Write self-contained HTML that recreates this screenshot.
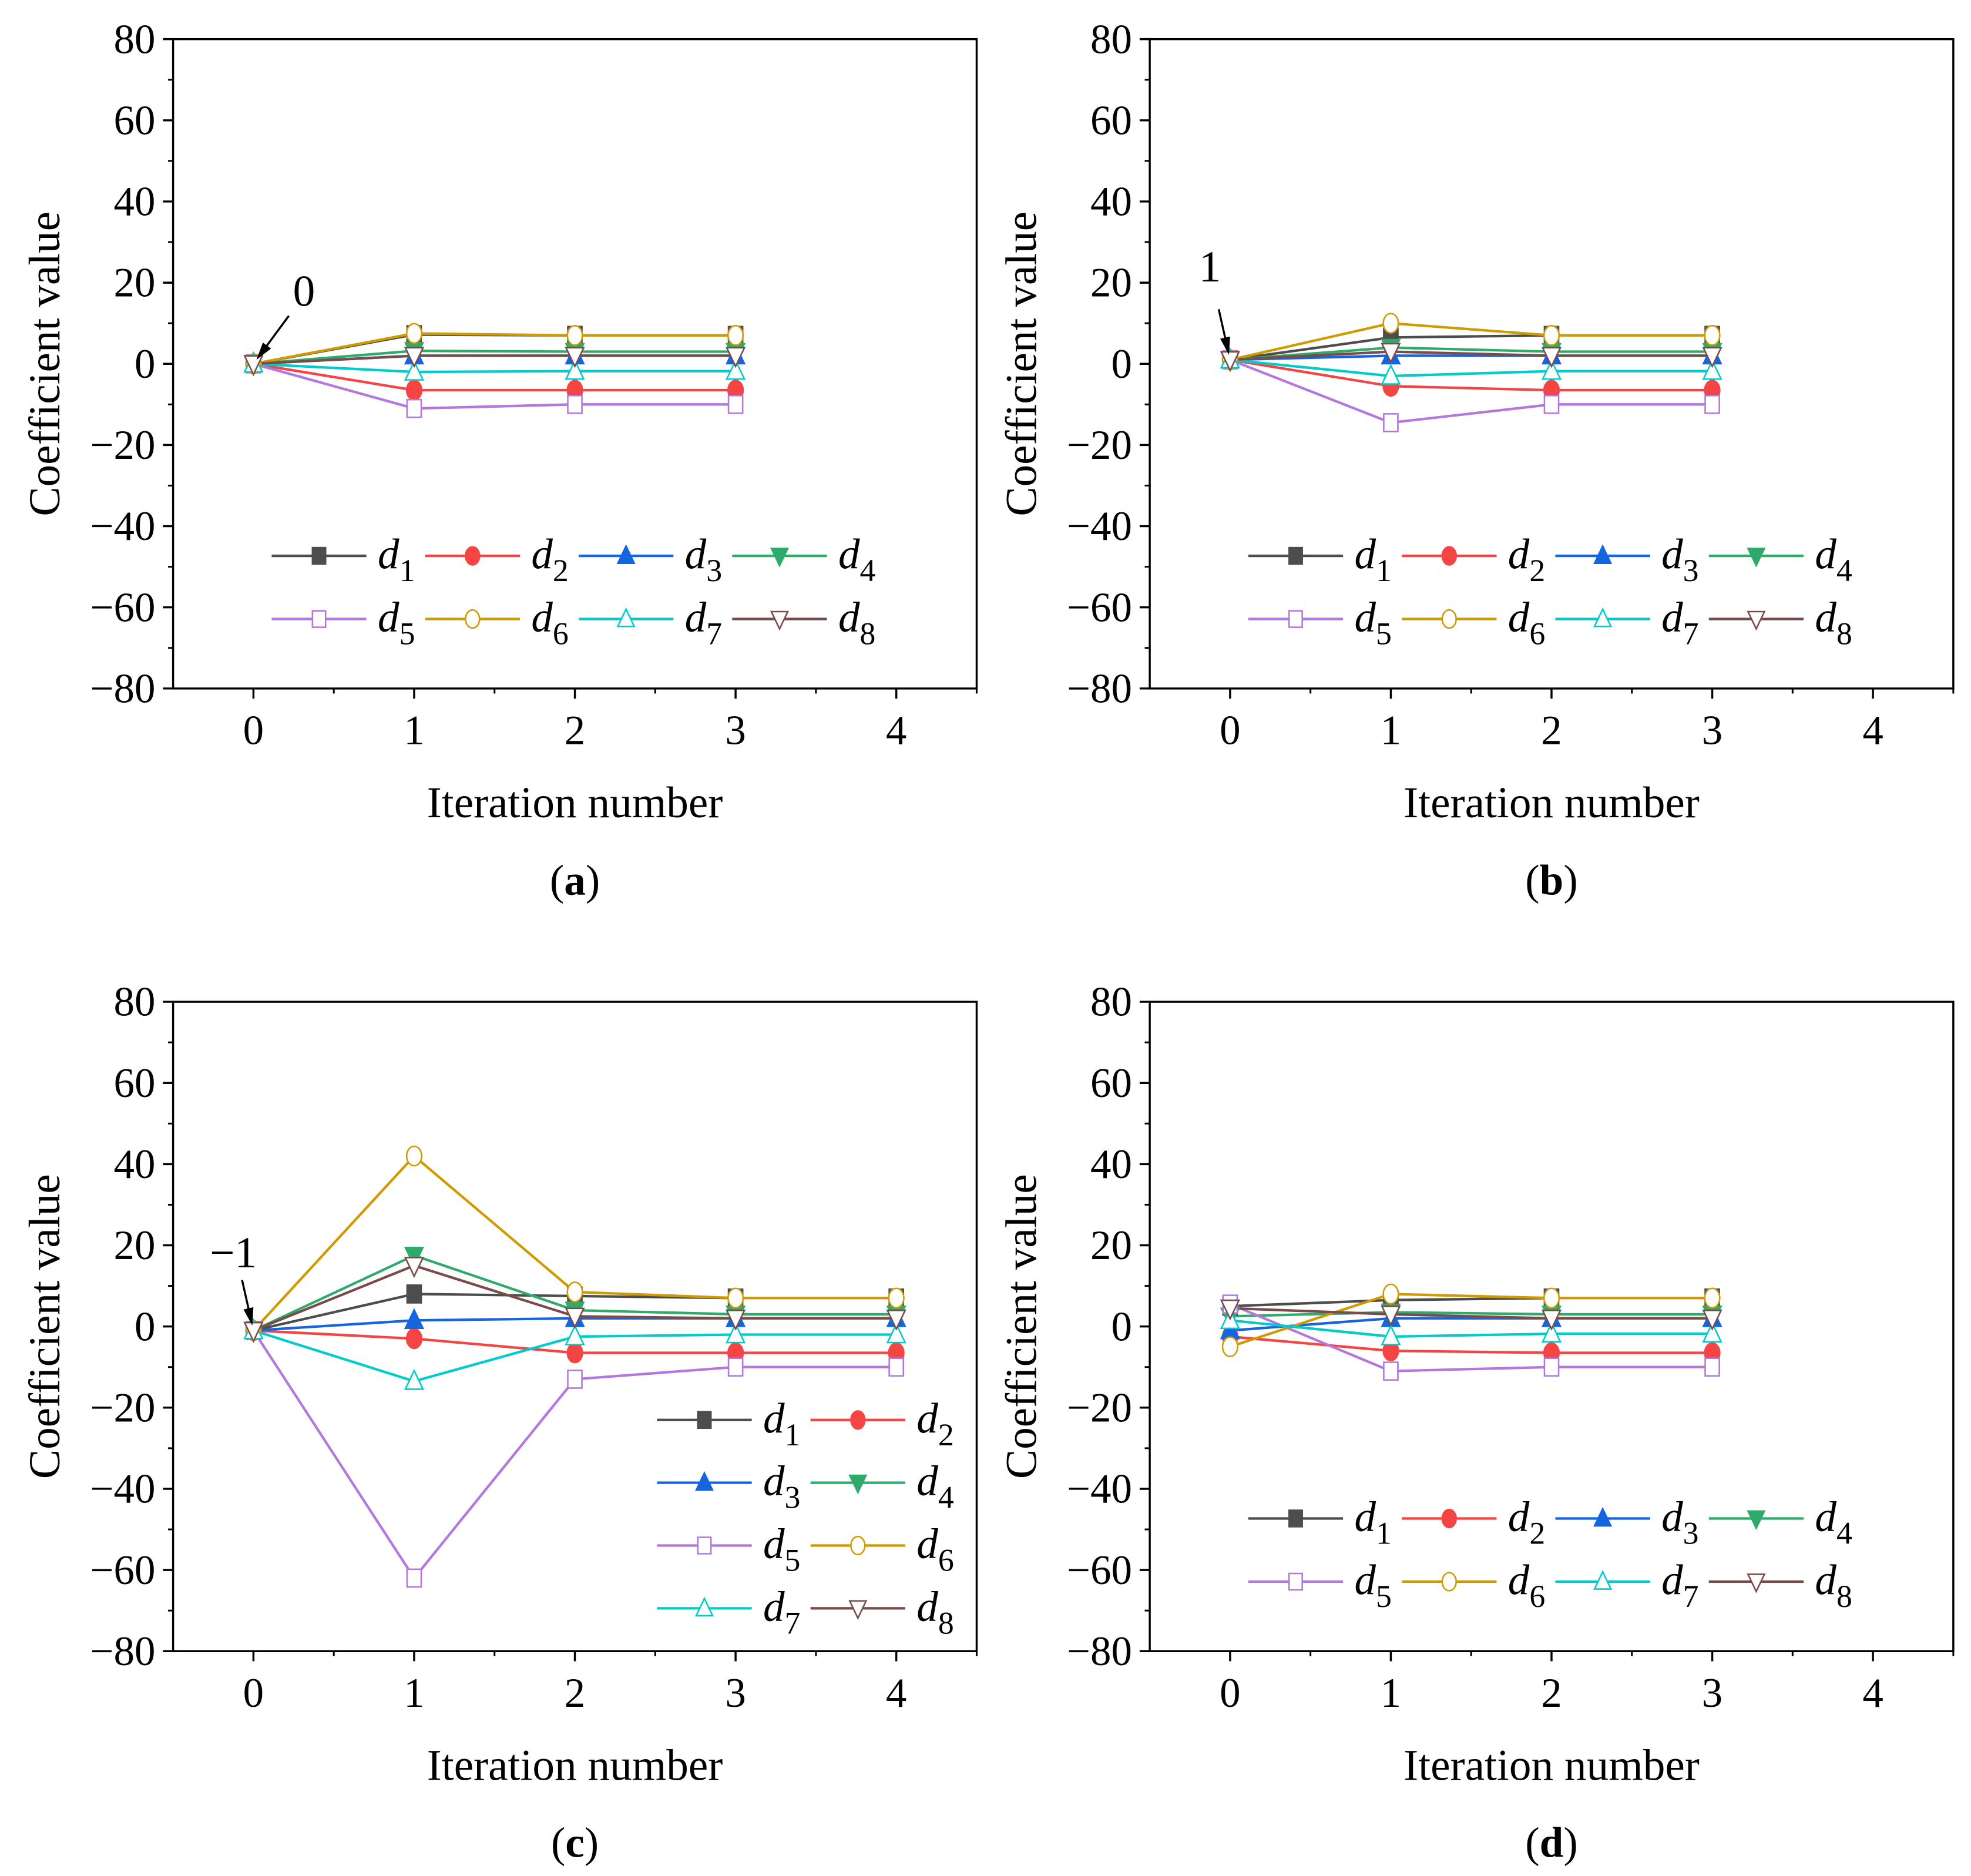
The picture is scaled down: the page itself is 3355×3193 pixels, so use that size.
<!DOCTYPE html>
<html><head><meta charset="utf-8"><style>
html,body{margin:0;padding:0;background:#fff}
svg{display:block}
text{font-family:"Liberation Serif",serif;fill:#000}
</style></head><body>
<svg id="fig" xmlns="http://www.w3.org/2000/svg" width="3355" height="3193" viewBox="0 0 1560 1485" preserveAspectRatio="none"></svg>
<script>
const NS="http://www.w3.org/2000/svg";
const seriesNames=["d1","d2","d3","d4","d5","d6","d7","d8"];
const colors=["#4d4d4d","#f44444","#1565e0","#2eab6a","#b477de","#d09b00","#00cccc","#7a4b4b"];
const markers=["sq","ci","tu","td","sqo","cio","tuo","tdo"];
const yTicks=[-80,-60,-40,-20,0,20,40,60,80];
const xTicks=[0,1,2,3,4];
const dataA=[[0,7.2,7,7],[0,-6.5,-6.5,-6.5],[0,2,2,2],[0,3.2,3,3],[0,-11,-10,-10],[0,7.5,7,7],[0,-2,-1.8,-1.8],[0,2,2,2]];
const dataB=[[1,6.5,7,7],[1,-5.5,-6.5,-6.5],[1,2,2,2],[1,4,3,3],[1,-14.5,-10,-10],[1,10,7,7],[1,-3,-1.8,-1.8],[1,3,2,2]];
const dataC=[[-1,8,7.5,7,7],[-1,-3,-6.5,-6.5,-6.5],[-1,1.5,2,2,2],[-1,17.5,4,3,3],[-1,-62,-13,-10,-10],[-1,42,8.5,7,7],[-1,-13.5,-2.5,-2,-2],[-1,15,2.5,2,2]];
const dataD=[[5,6.5,7,7],[-2.5,-6,-6.5,-6.5],[-1,2,2,2],[2.5,3.5,3,3],[5.5,-11,-10,-10],[-5,8,7,7],[1.5,-2.5,-1.8,-1.8],[4.5,3,2,2]];
const annotations=["0","1","\u22121",null];

function el(tag,attrs,parent){const e=document.createElementNS(NS,tag);for(const k in attrs)e.setAttribute(k,attrs[k]);(parent||svg).appendChild(e);return e;}
const svg=document.getElementById('fig');

function marker(g,type,cx,cy,col,s){
  const open=type.endsWith("o");const base=open?type.slice(0,-1):type;
  const fill=open?"#fff":col;let m;
  if(base==="sq")m=el("rect",{x:cx-s*0.8,y:cy-s,width:s*1.6,height:s*2,fill:fill,stroke:col,"stroke-width":1.2},g);
  else if(base==="ci")m=el("ellipse",{cx:cx,cy:cy,rx:s*0.85,ry:s*1.1,fill:fill,stroke:col,"stroke-width":1.2},g);
  else if(base==="tu")m=el("polygon",{points:`${cx},${cy-s*1.2} ${cx+s},${cy+s*0.9} ${cx-s},${cy+s*0.9}`,fill:fill,stroke:col,"stroke-width":1.2},g);
  else m=el("polygon",{points:`${cx},${cy+s*1.2} ${cx+s},${cy-s*0.9} ${cx-s},${cy-s*0.9}`,fill:fill,stroke:col,"stroke-width":1.2},g);
  
  
}

function panel(idx,ox,oy,data,legendCols,legX,legY){
  const L=137+ox,R=773+ox,T=31+oy,B=545+oy;
  const xs=v=>L+(v+0.5)/5*(R-L);
  const ys=v=>B-(v+80)/160*(B-T);
  const g=el("g",{});
  
  
  const frame=el("rect",{x:L,y:T,width:R-L,height:B-T,fill:"none",stroke:"#000","stroke-width":1.6},g);
  
  yTicks.forEach(t=>{
    el("line",{x1:L,x2:L-8,y1:ys(t),y2:ys(t),stroke:"#000","stroke-width":1.6},g);
    if(t<80) el("line",{x1:L,x2:L-4,y1:ys(t+10),y2:ys(t+10),stroke:"#000","stroke-width":1.4},g);
    const tx=el("text",{x:L-14,y:ys(t)+11,"text-anchor":"end","font-size":33},g);
    tx.textContent=(t<0?"\u2212"+(-t):t);
    
  });
  xTicks.forEach(t=>{
    el("line",{x1:xs(t),x2:xs(t),y1:B,y2:B+8,stroke:"#000","stroke-width":1.6},g);
    el("line",{x1:xs(t+0.5),x2:xs(t+0.5),y1:B,y2:B+4,stroke:"#000","stroke-width":1.4},g);
    const tx=el("text",{x:xs(t),y:B+44,"text-anchor":"middle","font-size":33},g);
    tx.textContent=t;
    
  });
  const xt=el("text",{x:(L+R)/2,y:B+102,"text-anchor":"middle","font-size":35},g);
  xt.textContent="Iteration number";
  
  const yt=el("text",{x:0,y:0,"text-anchor":"middle","font-size":35,transform:`translate(${L-90},${(T+B)/2}) rotate(-90)`},g);
  yt.textContent="Coefficient value";
  
  const pl=el("text",{x:(L+R)/2,y:B+163,"text-anchor":"middle","font-size":34},g);
  pl.innerHTML='(<tspan font-weight="bold">'+"abcd"[idx]+'</tspan>)';
  
  data.forEach((s,i)=>{
    const pts=s.map((v,j)=>xs(j)+","+ys(v)).join(" ");
    const line=el("polyline",{points:pts,fill:"none",stroke:colors[i],"stroke-width":2},g);
    
  });
  data.forEach((s,i)=>s.forEach((v,j)=>marker(g,markers[i],xs(j),ys(v),colors[i],7)));
  if(annotations[idx]!==null){
    const v0=data[0][0];
    const ax=xs(0),ay=ys(v0);
    let tx,ty,sx,sy;
    if(idx===0){tx=ax+40;ty=ay-46;sx=ax+28;sy=ay-38;}
    else if(idx===1){tx=ax-16;ty=ay-62;sx=ax-9;sy=ay-40;}
    else{tx=ax-16;ty=ay-50;sx=ax-9;sy=ay-40;}
    const a=el("text",{x:tx,y:ty,"text-anchor":"middle","font-size":35},g);
    a.textContent=annotations[idx];
    
    const ang=Math.atan2(ay-sy,ax-sx);const ex=ax-4*Math.cos(ang),ey=ay-4*Math.sin(ang);
    el("line",{x1:sx,y1:sy,x2:ex-10*Math.cos(ang),y2:ey-10*Math.sin(ang),stroke:"#000","stroke-width":1.6},g);
    const p1=[ex-14*Math.cos(ang)+4*Math.sin(ang),ey-14*Math.sin(ang)-4*Math.cos(ang)];
    const p2=[ex-14*Math.cos(ang)-4*Math.sin(ang),ey-14*Math.sin(ang)+4*Math.cos(ang)];
    el("polygon",{points:`${ex},${ey} ${p1} ${p2}`,fill:"#000"},g);
  }
  const lg=el("g",{},g);
  
  for(let i=0;i<8;i++){
    const col=i%legendCols,row=Math.floor(i/legendCols);
    const x0=legX+ox+col*121.5,y0=legY+oy+row*(legendCols===4?50:49.7);
    const e=el("g",{},lg);
    
    el("line",{x1:x0,x2:x0+75,y1:y0,y2:y0,stroke:colors[i],"stroke-width":2},e);
    marker(e,markers[i],x0+37.5,y0,colors[i],6.5);
    const t=el("text",{x:x0+84,y:y0+10,"font-size":34},e);
    t.innerHTML='<tspan font-style="italic">d</tspan><tspan font-size="25" dy="10">'+(i+1)+'</tspan>';
  }
}
panel(0,0,0,dataA,4,215,440);
panel(1,773,0,dataB,4,215,440);
panel(2,0,762,dataC,2,520,362);
panel(3,773,762,dataD,4,215,440);
</script>
</body></html>
